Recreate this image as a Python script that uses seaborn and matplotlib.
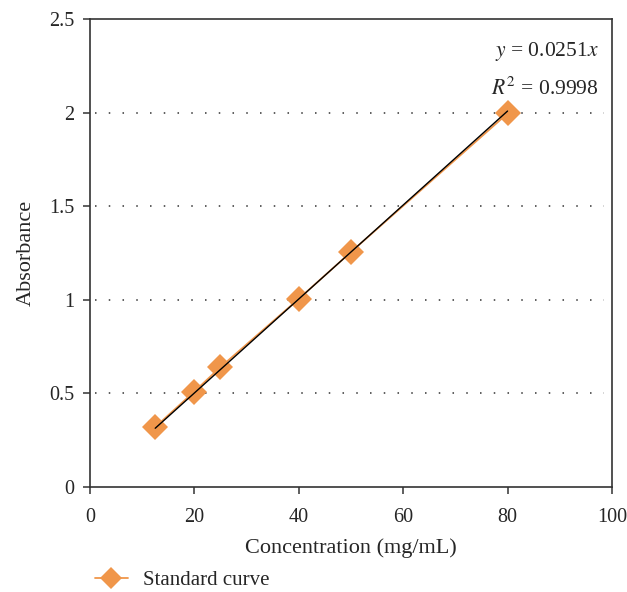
import matplotlib.pyplot as plt
import seaborn as sns
import pandas as pd
import numpy as np

concentration = [12.5, 20, 25, 40, 50, 80]
absorbance = [0.32, 0.51, 0.64, 1.005, 1.255, 1.995]
slope = 0.0251
r_squared = 0.9998

df = pd.DataFrame({"conc": concentration, "abs": absorbance})
fit_x = np.array([min(concentration), max(concentration)])
df_fit = pd.DataFrame({"conc": fit_x, "abs": slope * fit_x})

sns.set_style("ticks")
plt.rcParams["font.family"] = ["Liberation Serif", "DejaVu Serif"]
plt.rcParams["mathtext.fontset"] = "stix"

orange = "#F0964A"

fig = plt.figure(figsize=(6.27, 5.92), dpi=100)
ax = fig.add_axes([0.1435, 0.1774, 0.8325, 0.7906])

sns.lineplot(data=df, x="conc", y="abs", ax=ax, color=orange, marker="D",
             markersize=13, markeredgewidth=0, linewidth=1.3, label="Standard curve",
             legend=False)
sns.lineplot(data=df_fit, x="conc", y="abs", ax=ax, color="black", linewidth=1.0,
             legend=False)

ax.set_xlim(0, 100)
ax.set_ylim(0, 2.5)
ax.set_xticks([0, 20, 40, 60, 80, 100])
ax.set_yticks([0, 0.5, 1, 1.5, 2, 2.5])
ax.set_yticklabels(["0", "0.5", "1", "1.5", "2", "2.5"])
ax.tick_params(labelsize=14.5, length=5, width=1.1, color="#333333", direction="out")
ax.tick_params(axis="x", pad=10)
ax.tick_params(axis="y", pad=6)
for s in ax.spines.values():
    s.set_linewidth(1.2)
    s.set_color("#333333")
for yv in [0.5, 1, 1.5, 2]:
    ax.axhline(yv, xmin=0.01, xmax=0.985, linestyle=(0, (1, 8)), color="#333333",
               linewidth=1.1, zorder=0)

ax.set_xlabel("Concentration (mg/mL)", fontsize=16, labelpad=8)
ax.set_ylabel("Absorbance", fontsize=16, labelpad=10)

ax.text(0.975, 0.93, r"$y$ = 0.0251$x$", transform=ax.transAxes, ha="right",
        va="center", fontsize=15.5)
ax.text(0.975, 0.85, r"$R^2$ = " + f"{r_squared}", transform=ax.transAxes,
        ha="right", va="center", fontsize=15.5)

handles, labels = ax.get_legend_handles_labels()
fig.legend(handles, labels, loc="center left", bbox_to_anchor=(0.131, 0.02),
           frameon=False, fontsize=15, handlelength=1.6, handletextpad=0.7,
           markerscale=0.9, borderpad=0.1)

fig.savefig("out.png", dpi=100)
